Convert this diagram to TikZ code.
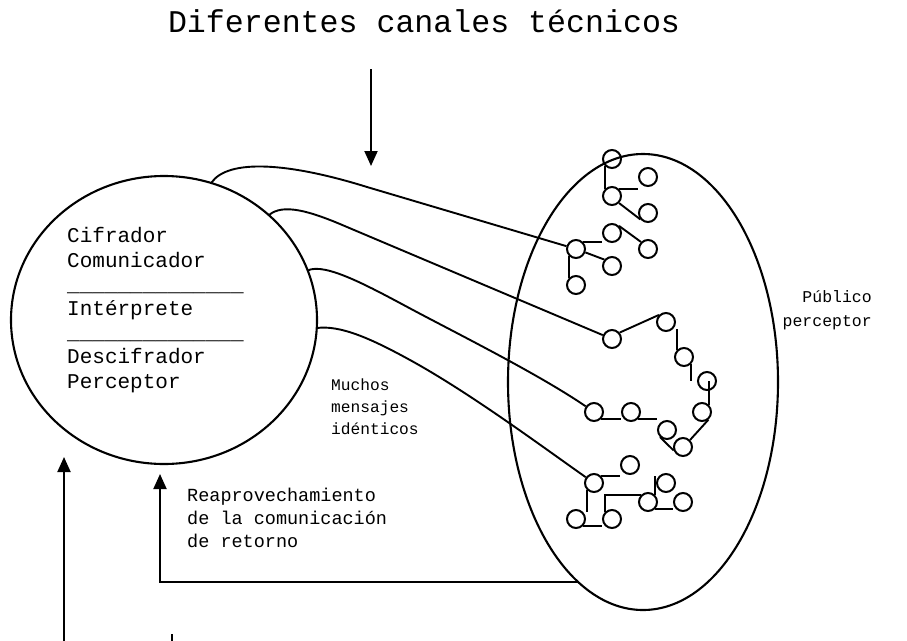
\documentclass[tikz,border=0pt]{standalone}
\usepackage{fontspec}
\setmainfont{Liberation Mono}
\usetikzlibrary{arrows.meta,shapes.geometric,calc}
\begin{document}
\begin{tikzpicture}[x=1pt,y=-1pt,
  bigshape/.style={draw, ellipse, line width=2.1pt, inner sep=0pt, outer sep=0pt},
  dot/.style={draw, circle, minimum size=18pt, inner sep=0pt, line width=2pt},
  conn/.style={line width=1.9pt},
  arr/.style={line width=1.9pt, -{Triangle[length=15pt,width=13pt]}},
  lbl/.style={inner sep=0pt, anchor=base west, align=left},
]
\useasboundingbox (0,0) rectangle (907,640);
\fill[white] (0,0) rectangle (907,640);

% title and its arrow
\node[inner sep=0pt, anchor=base, font=\fontsize{31.6}{36}\selectfont] (title) at (424,32) {Diferentes canales técnicos};
\coordinate (ttop) at (371,69);
\coordinate (tbot) at (371,166);
\draw[arr] (ttop) -- (tbot);

% main shapes
\node[bigshape, minimum width=306pt, minimum height=288pt] (src) at (164,320) {};
\node[bigshape, minimum width=270pt, minimum height=456pt] (pub) at (643,382) {};

% texts (anchor = baseline of the last line)
\node[lbl, font=\fontsize{21}{24.2}\selectfont] (roles) at (67,388)
  {Cifrador\\Comunicador\\\_\_\_\_\_\_\_\_\_\_\_\_\_\_\\Intérprete\\\_\_\_\_\_\_\_\_\_\_\_\_\_\_\\Descifrador\\Perceptor};
\node[lbl, font=\fontsize{16.2}{22}\selectfont] (msgs) at (331,434) {Muchos\\mensajes\\idénticos};
\node[inner sep=0pt, anchor=base east, align=right, font=\fontsize{16.5}{24}\selectfont] (publab) at (872,326) {Público\\perceptor};
\node[lbl, font=\fontsize{18.5}{23}\selectfont] (reap) at (187,547) {Reaprovechamiento\\de la comunicación\\de retorno};

% receivers
\foreach \n/\x/\y in {a1/612/159, a2/648/177, a3/612/196, a4/648/213,
  b1/576/249, b2/612/233, b3/648/249, b4/612/266, b5/576/285,
  c1/612/339, c2/666/322, c3/684/357, c4/707/381, c5/702/412, c6/683/447, c7/667/430, c8/631/412, c9/594/412,
  d1/594/483, d2/630/465, d3/576/519, d4/612/519, d5/648/502, d6/666/483, d7/683/502}
  \node[dot] (\n) at (\x,\y) {};

% channels
\draw[conn] (src.71) .. controls (228,158) and (290,163) .. (367,187) -- (b1);
\draw[conn] (src.45) .. controls (283,203) and (310,211) .. (347,227) -- (c1);
\draw[conn] (src.19) .. controls (325,262) and (370,287) .. (413,310) .. controls (460,335) and (540,375) .. (c9);
\draw[conn] (src.-3) .. controls (340,325) and (370,338) .. (410,360) .. controls (470,393) and (540,445) .. (d1);

% cluster A
\draw[conn] (a1.south west) -- (a3.north west);
\draw[conn] (a3.45) -- (a3.45 -| a2.west);
\draw[conn] (a3.-45) -- (a4.220);
% cluster B
\draw[conn] (b1.north east) -- (b1.north east -| b2.west);
\draw[conn] (b2.north east) -- (b3.north west);
\draw[conn] (b1.-20) -- (b4.140);
\draw[conn] (b1.south west) -- (b5.north west);
% cluster C
\draw[conn] (c1.40) -- (c2.135);
\draw[conn] (c2.south east -| c3.north west) -- (c3.north west);
\draw[conn] (c3.south east) -- (c3.south east |- c4.west);
\draw[conn] (c5.north east |- c4.center) -- (c5.north east);
\draw[conn] (c5.-50) -- (c6.45);
\draw[conn] (c7.south west) -- (c6.200);
\draw[conn] (c8.south east) -- (c8.south east -| c7.west);
\draw[conn] (c9.south east) -- (c9.south east -| c8.west);
% cluster D
\draw[conn] (d1.north east) -- (d1.north east -| d2.west);
\draw[conn] (d1.south west) -- (d1.south west |- d3.north east);
\draw[conn] (d3.south east) -- (d3.south east -| d4.west);
\draw[conn] (d4.north west) |- (d5.north west);
\draw[conn] (d5.north east) -- (d5.north east |- d6.north west);
\draw[conn] (d5.south east) -- (d5.south east -| d7.west);

% feedback
\coordinate (fbtip) at (160,474);
\draw[arr] (pub.252) -- (pub.252 -| fbtip) -- (fbtip);

% arrows at the bottom left
\coordinate (lbot) at (64,645);
\coordinate (ltip) at (64,457);
\draw[arr] (lbot) -- (ltip);
\coordinate (tb) at (172,645);
\coordinate (tt) at (172,634);
\draw[conn] (tb) -- (tt);
\end{tikzpicture}
\end{document}
